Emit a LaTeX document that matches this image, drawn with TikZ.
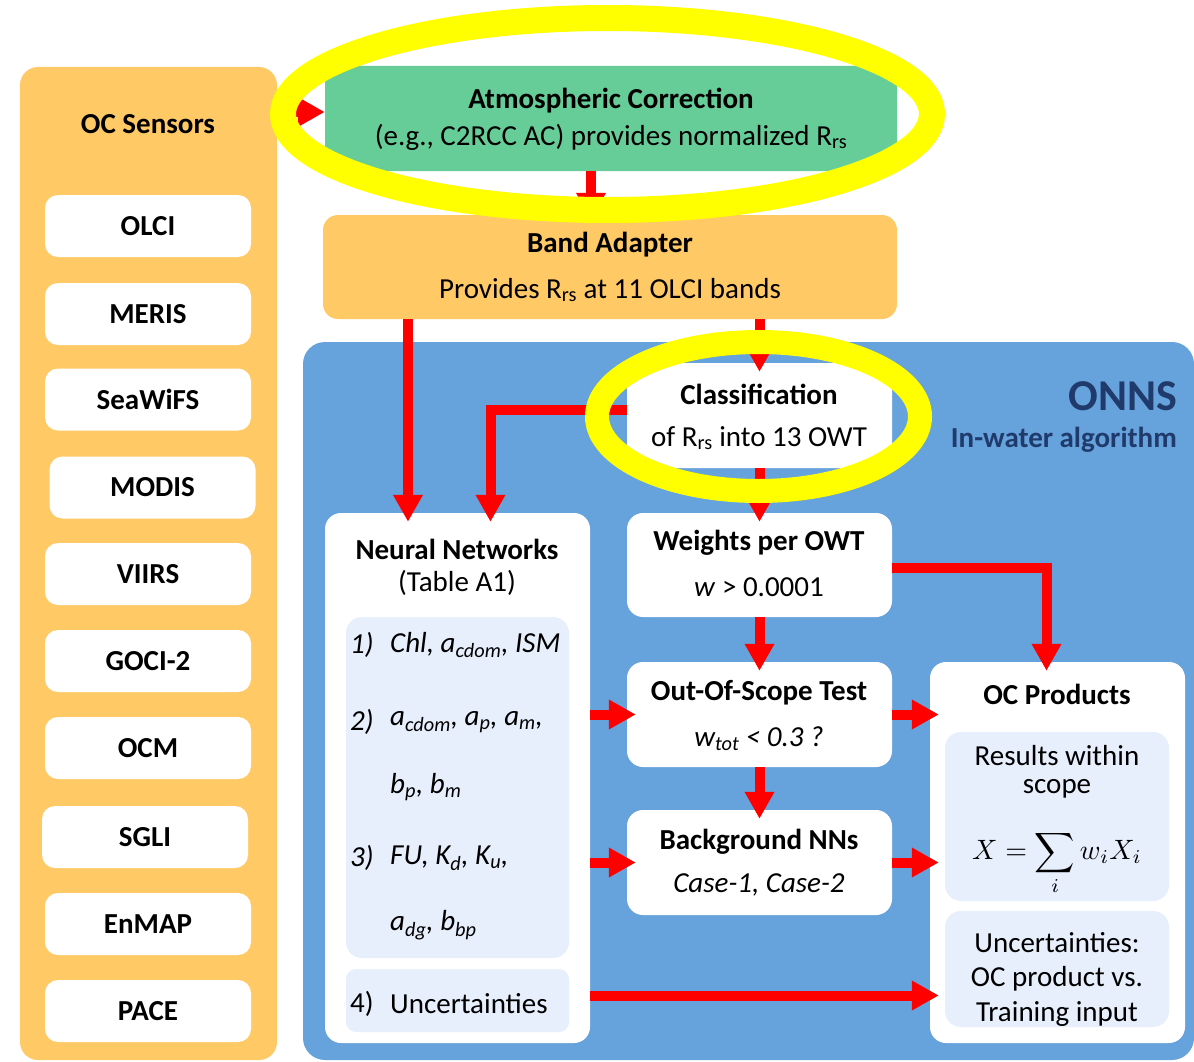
\documentclass[tikz,border=0pt]{standalone}
\usepackage{fontspec}
\setmainfont{Carlito}
\usetikzlibrary{arrows.meta}
\definecolor{orangefill}{HTML}{FFC966}
\definecolor{greenfill}{HTML}{66CD99}
\definecolor{bluefill}{HTML}{66A2DB}
\definecolor{innerfill}{HTML}{E7EEFC}
\definecolor{titleblue}{HTML}{1F3A6B}
\definecolor{arrowred}{HTML}{FF0000}
\definecolor{hlyellow}{HTML}{FFFF00}
\newcommand\rsub[1]{\textsubscript{#1}}
\begin{document}
\begin{tikzpicture}[x=1pt,y=-1pt,
  txt/.style={font=\fontsize{29}{34}\selectfont, inner sep=0pt},
  bold/.style={font=\fontsize{29}{34}\selectfont\bfseries, inner sep=0pt},
  ital/.style={font=\fontsize{29}{34}\selectfont\itshape, inner sep=0pt, anchor=west},
  upr/.style={font=\fontsize{29}{34}\selectfont, inner sep=0pt, anchor=west},
  panel/.style={fill=orangefill, rounded corners=18pt, inner sep=0pt},
  sensor/.style={fill=white, rounded corners=13pt, minimum width=206pt, minimum height=62pt, inner sep=0pt, font=\fontsize{29}{34}\selectfont\bfseries},
  card/.style={fill=white, rounded corners=16pt, inner sep=0pt},
  inner/.style={fill=innerfill, rounded corners=16pt, inner sep=0pt},
  link/.style={draw=arrowred, line width=10pt, -{Triangle[width=28pt,length=27pt]}, shorten >=-9pt},
  ring/.style={draw=hlyellow, line width=26pt},
]
\useasboundingbox (0,0) rectangle (1194,1062);

% --- sensors panel
\node[panel, minimum width=257pt, minimum height=993pt] (sens) at (148.5,563.5) {};
\node[bold] (senst) at (148,124) {OC Sensors};
\node[sensor] (olci)   at (148,226)    {OLCI};
\node[sensor] (meris)  at (148,314)    {MERIS};
\node[sensor] (seawifs) at (148,399.5) {SeaWiFS};
\node[sensor] (modis)  at (152.5,487.5) {MODIS};
\node[sensor] (viirs)  at (148,574)    {VIIRS};
\node[sensor] (goci)   at (148,661)    {GOCI-2};
\node[sensor] (ocm)    at (148,748)    {OCM};
\node[sensor] (sgli)   at (145,837)    {SGLI};
\node[sensor] (enmap)  at (148,924)    {EnMAP};
\node[sensor] (pace)   at (148,1011)   {PACE};

% --- atmospheric correction and band adapter
\node[fill=greenfill, rounded corners=3pt, minimum width=572pt, minimum height=105pt, inner sep=0pt] (ac) at (611,118.5) {};
\node[bold] (act) at (611,101) {Atmospheric Correction};
\node[txt] (acs) at (611,137) {(e.g., C2RCC AC) provides normalized R\rsub{rs}};
\node[panel, rounded corners=15pt, minimum width=574pt, minimum height=104pt] (ba) at (610,267) {};
\node[bold] (bat) at (610,245) {Band Adapter};
\node[txt] (bas) at (610,290) {Provides R\rsub{rs} at 11 OLCI bands};

% --- ONNS panel
\node[fill=bluefill, rounded corners=22pt, minimum width=891pt, minimum height=718pt, inner sep=0pt] (onns) at (748.5,701) {};
\node[font=\fontsize{44}{50}\selectfont\bfseries, text=titleblue, inner sep=0pt, anchor=east] (onnst) at (1177,396) {ONNS};
\node[font=\fontsize{29}{34}\selectfont\bfseries, text=titleblue, inner sep=0pt, anchor=east] (onnss) at (1177,440) {In-water algorithm};

% --- flow cards
\node[card, minimum width=265pt, minimum height=105pt] (cls) at (759.5,415.5) {};
\node[bold] (clst) at (759,394) {Classification};
\node[txt] (clss) at (759,438) {of R\rsub{rs} into 13 OWT};

\node[card, minimum width=265pt, minimum height=104pt] (wt) at (759.5,565) {};
\node[bold] (wtt) at (759,543) {Weights per OWT};
\node[txt] (wts) at (759,587) {\textit{w} {>} 0.0001};

\node[card, minimum width=265pt, minimum height=105pt] (oos) at (759.5,714.5) {};
\node[bold] (oost) at (759,693) {Out-Of-Scope Test};
\node[txt, font=\fontsize{29}{34}\selectfont\itshape] (ooss) at (759,739) {w\rsub{tot} {<} 0.3 ?};

\node[card, minimum width=265pt, minimum height=105pt] (bnn) at (759.5,862.5) {};
\node[bold] (bnnt) at (759,842) {Background NNs};
\node[txt, font=\fontsize{29}{34}\selectfont\itshape] (bnns) at (759,885) {Case-1, Case-2};

% --- neural networks
\node[card, minimum width=265pt, minimum height=530pt] (nn) at (457.5,778) {};
\node[bold] (nnt) at (457,549) {Neural Networks};
\node[txt] (nns) at (457,583) {(Table A1)};
\node[inner, minimum width=223pt, minimum height=341pt] (u1) at (457.5,787.5) {};
\node[inner, rounded corners=10pt, minimum width=223pt, minimum height=63pt] (u4) at (457.5,1000.5) {};
\node[ital] (n1) at (350,645) {1)};
\node[ital] (l1) at (390,645) {Chl, a\rsub{cdom}, ISM};
\node[ital] (n2) at (350,722) {2)};
\node[ital] (l2) at (390,722) {a\rsub{cdom}, a\rsub{p}, a\rsub{m},};
\node[ital] (l2b) at (390,787) {b\rsub{p}, b\rsub{m}};
\node[ital] (n3) at (350,858) {3)};
\node[ital] (l3) at (390,858) {FU, K\rsub{d}, K\rsub{u},};
\node[ital] (l3b) at (390,925) {a\rsub{dg}, b\rsub{bp}};
\node[upr] (n4) at (350,1004) {4)};
\node[upr] (l4) at (390,1004) {Uncertainties};

% --- OC products
\node[card, minimum width=255pt, minimum height=381pt] (oc) at (1057.5,852.5) {};
\node[bold] (oct) at (1057,694) {OC Products};
\node[inner, minimum width=224pt, minimum height=169pt] (oca) at (1057,816.5) {};
\node[inner, minimum width=224pt, minimum height=116pt] (ocb) at (1057,969) {};
\node[txt] (ocat1) at (1057,756) {Results within};
\node[txt] (ocat2) at (1057,789) {scope};
\node[inner sep=0pt] (form) at (1057,863) {\scalebox{2.8}{$X = \displaystyle\sum_i w_i X_i$}};
\node[txt] (ocb1) at (1057,943) {Uncertainties:};
\node[txt] (ocb2) at (1057,979) {OC product vs.};
\node[txt] (ocb3) at (1057,1014) {Training input};

% --- connectors
\coordinate (a1) at ([yshift=6.5pt]ac.west);
\draw[link, shorten >=0pt] (a1 -| sens.east) -- (a1);
\coordinate (a2) at ([xshift=-20pt]ac.south);
\draw[link, shorten >=-5pt] (a2) -- (a2 |- ba.north);
\coordinate (a3) at ([xshift=-49.5pt]nn.north);
\draw[link] (a3 |- ba.south) -- (a3);
\draw[link] (cls.north |- ba.south) -- (cls.north);
\coordinate (a5) at ([yshift=5.5pt]cls.west);
\coordinate (a5b) at ([xshift=33pt]nn.north);
\draw[link] (a5) -| (a5b);
\draw[link] (cls.south) -- (wt.north);
\coordinate (a7) at ([yshift=-3pt]wt.east);
\coordinate (a7b) at ([xshift=-11pt]oc.north);
\draw[link] (a7) -| (a7b);
\draw[link] (wt.south) -- (oos.north);
\draw[link] (oos.south) -- (bnn.north);
\draw[link] (nn.east |- oos.west) -- (oos.west);
\draw[link] (nn.east |- bnn.west) -- (bnn.west);
\draw[link] (oos.east) -- (oos.east -| oc.west);
\draw[link] (bnn.east) -- (bnn.east -| oc.west);
\coordinate (a14) at ([yshift=5pt]u4.center);
\draw[link] (a14 -| nn.east) -- (a14 -| oc.west);

% --- highlight rings
\draw[ring] (607.5,114) ellipse [x radius=324.5pt, y radius=96pt];
\draw[ring, line width=24pt] (758.5,416.5) ellipse [x radius=161.5pt, y radius=74.5pt];
\end{tikzpicture}
\end{document}
